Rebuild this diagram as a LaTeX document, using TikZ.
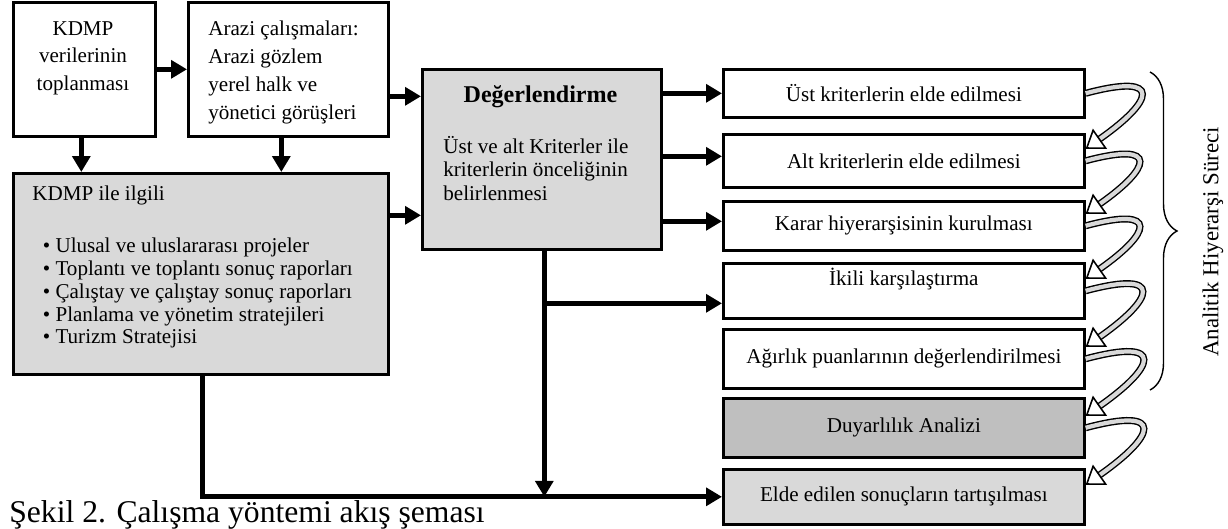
\documentclass[tikz,border=0pt]{standalone}
\usepackage{fontspec}
\setmainfont{Liberation Serif}
\usetikzlibrary{arrows.meta,calc,decorations.pathreplacing}
\tikzset{
  box/.style={draw=black, line width=1.5pt, anchor=north west, inner sep=0pt},
  stepbox/.style={box, minimum width=7.22cm, font=\fontsize{12}{13}\selectfont},
  thickarrow/.style={black, line width=3pt, -{Triangle[length=9pt,width=10pt]}},
  bendarrow/.style={black, line width=0.8pt, double=black!15, double distance=2.4pt,
    -{Triangle[fill=white, line width=0.9pt, length=10pt, width=14pt]}},
}
\begin{document}
\begin{tikzpicture}[scale=0.2]
  \tikzstyle{every node}+=[inner sep=0pt]
  \useasboundingbox (0,0) rectangle (122.8,-52.9);
  \node [box, minimum width=2.84cm, minimum height=2.68cm] (veri) at (1.2,-0.1) {};
  \node [anchor=north, align=center, font=\fontsize{12}{15.8}\selectfont] (veritext) at (8.3,-2.1) {KDMP\\verilerinin\\toplanması};
  \node [box, minimum width=4cm, minimum height=2.68cm] (arazi) at (18.7,-0.1) {};
  \node [anchor=north west, align=left, font=\fontsize{12}{16}\selectfont] (arazitext) at (20.8,-2.05) {Arazi çalışmaları:\\Arazi gözlem\\yerel halk ve\\yönetici görüşleri};
  \node [box, fill=black!15, minimum width=7.5cm, minimum height=4.02cm] (ilgili) at (1.2,-17.2) {};
  \node [anchor=north west, align=left, font=\fontsize{12}{13}\selectfont] (ilgilitext) at (3.2,-18.55) {KDMP ile ilgili\\[16.6pt]
    \hspace*{6pt}\textbullet\hspace{3pt}Ulusal ve uluslararası projeler\\
    \hspace*{6pt}\textbullet\hspace{3pt}Toplantı ve toplantı sonuç raporları\\
    \hspace*{6pt}\textbullet\hspace{3pt}Çalıştay ve çalıştay sonuç raporları\\
    \hspace*{6pt}\textbullet\hspace{3pt}Planlama ve yönetim stratejileri\\
    \hspace*{6pt}\textbullet\hspace{3pt}Turizm Stratejisi};
  \node [box, fill=black!15, minimum width=4.78cm, minimum height=3.6cm] (deger) at (42.1,-6.8) {};
  \node [anchor=north, font=\fontsize{13.7}{16}\selectfont\bfseries] (degertitle) at (54.05,-8.55) {Değerlendirme};
  \node [anchor=north west, align=left, font=\fontsize{12}{13.4}\selectfont] (degertext) at (44.3,-13.6) {Üst ve alt Kriterler ile\\kriterlerin önceliğinin\\belirlenmesi};
  \node [stepbox, minimum height=0.96cm] (r1) at (72.2,-6.8) {Üst kriterlerin elde edilmesi};
  \node [stepbox, minimum height=1.06cm] (r2) at (72.2,-13.3) {Alt kriterlerin elde edilmesi};
  \node [stepbox, minimum height=0.98cm] (r3) at (72.2,-20.0) {Karar hiyerarşisinin kurulması};
  \node [stepbox, minimum height=1.1cm, text height=9pt, text depth=15pt] (r4) at (72.2,-26.2) {İkili karşılaştırma};
  \node [stepbox, minimum height=1.18cm] (r5) at (72.2,-32.8) {Ağırlık puanlarının değerlendirilmesi};
  \node [stepbox, fill=black!25, minimum height=1.18cm] (r6) at (72.2,-39.7) {Duyarlılık Analizi};
  \node [stepbox, fill=black!15, minimum height=1.1cm] (r7) at (72.2,-46.8) {Elde edilen sonuçların tartışılması};
  \draw [thickarrow] (veri) -- (arazi);
  \draw [thickarrow] ($(arazi.east)+(0,-2.7)$) -- ($(arazi.east -| deger.west)+(0,-2.7)$);
  \draw [thickarrow] ($(veri.south)+(-0.3,0)$) -- ($(veri.south |- ilgili.north)+(-0.3,0)$);
  \draw [thickarrow] ($(arazi.south)+(-0.7,0)$) -- ($(arazi.south |- ilgili.north)+(-0.7,0)$);
  \draw [thickarrow] ($(ilgili.east)+(0,5.85)$) -- ($(ilgili.east -| deger.west)+(0,5.85)$);
  \draw [thickarrow] (deger.east |- r1) -- (r1);
  \draw [thickarrow] ($(deger.east |- r2)+(0,0.45)$) -- ($(r2.west)+(0,0.45)$);
  \draw [thickarrow] ($(deger.east |- r3)+(0,0.45)$) -- ($(r3.west)+(0,0.45)$);
  \coordinate (fork) at ($(deger.south |- r4.west)+(0.25,-1.25)$);
  \draw [thickarrow] ($(deger.south)+(0.25,0)$) -- ($(deger.south |- r7.west)+(0.25,0)$);
  \draw [thickarrow] (fork) -- (fork -| r4.west);
  \draw [thickarrow] ($(ilgili.south)+(0.15,0)$) |- (r7.west);
  \foreach \a/\b in {r1/r2, r2/r3, r3/r4, r4/r5, r5/r6, r6/r7}
    \draw [bendarrow] (\a.east) to [out=15, in=35, looseness=3.8] ($(\b.east)+(0,1.2)$);
  \draw [black, line width=0.8pt, decorate, decoration={brace, amplitude=0.54cm}] (115.0,-7.2) -- (115.0,-39.0);
  \node [rotate=90, font=\fontsize{13}{16}\selectfont] (ahp) at (121.3,-24.2) {Analitik Hiyerarşi Süreci};
  \node [anchor=base west, font=\fontsize{18}{21}\selectfont] (caption) at (0.9,-52.2) {Şekil 2. Çalışma yöntemi akış şeması};
\end{tikzpicture}
\end{document}
